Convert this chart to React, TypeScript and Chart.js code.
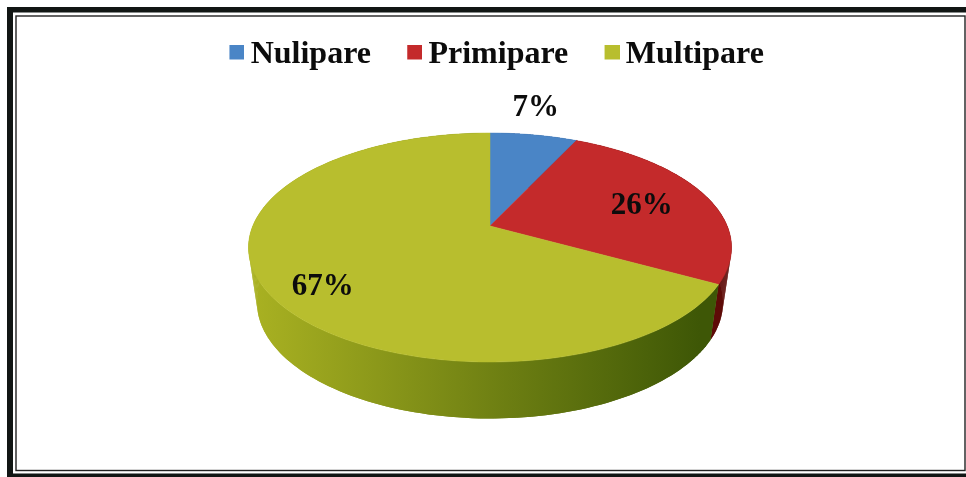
import React, { useEffect, useRef } from "react";
import { Chart, registerables } from "chart.js";

Chart.register(...registerables);

const categories = ["Nulipare", "Primipare", "Multipare"];
const shares = [7, 26, 67];
const faceColors = ["#4A85C6", "#C42A2B", "#B8BE2E"];
const sideStops = [
  ["#2C5A90", "#2C5A90"],
  ["#7C120E", "#5E0B07"],
  ["#AAB222", "#3E5706"],
];

// Tilted-disc projection
const CX = 490;
const CY = 226;
const A = 237.2;
const B = 110.46;
const K = 0.1878;
const ELL_Y = 247.5;
const RIM_SX = 233 / 241.5;
const RIM_SY = 116 / 114.5;
const RIM_Y = 302.5;

function face(angle: number, f = 1): [number, number] {
  const u = Math.cos(angle) * f;
  const v = -Math.sin(angle) * f;
  const w = 1 + K * v;
  return [CX + (A * u) / w, CY - (B * v) / w];
}
function rim(angle: number): [number, number] {
  const [x, y] = face(angle);
  return [CX + (x - CX) * RIM_SX, RIM_Y + (y - ELL_Y) * RIM_SY];
}

const labelRadial = [1, 0.7, 0.76];
const labelShift = [[2, -27], [0, 3], [0, 15]];

function legendSwatch(color: string) {
  const c = document.createElement("canvas");
  c.width = 20;
  c.height = 21;
  const x = c.getContext("2d") as CanvasRenderingContext2D;
  x.fillStyle = color;
  x.fillRect(5, 0, 15, 15);
  return c;
}

const pie3d = {
  id: "pie3d",
  beforeDraw(chart: any) {
    const { ctx } = chart;
    ctx.save();
    ctx.fillStyle = "#ffffff";
    ctx.fillRect(0, 0, 966, 477);
    ctx.fillStyle = "#111614";
    ctx.fillRect(7, 7, 959, 5.5);
    ctx.fillRect(7, 7, 6, 470);
    ctx.fillRect(7, 473.5, 959, 3.5);
    ctx.strokeStyle = "#222";
    ctx.lineWidth = 1.4;
    ctx.strokeRect(16, 16, 949, 454.5);
    ctx.restore();
  },
  beforeDatasetsDraw(chart: any) {
    const { ctx } = chart;
    const arcs = chart.getDatasetMeta(0).data;
    const path = (pts: [number, number][]) => {
      ctx.beginPath();
      pts.forEach(([x, y], i) => (i ? ctx.lineTo(x, y) : ctx.moveTo(x, y)));
      ctx.closePath();
    };
    const sweep = (el: any) => {
      const out: number[] = [];
      const n = 160;
      for (let i = 0; i <= n; i++) out.push(el.startAngle + ((el.endAngle - el.startAngle) * i) / n);
      return out;
    };
    ctx.save();
    arcs.forEach((el: any, i: number) => {
      const as = sweep(el);
      const g = ctx.createLinearGradient(249, 0, 700, 0);
      g.addColorStop(0, sideStops[i][0]);
      g.addColorStop(1, sideStops[i][1]);
      ctx.fillStyle = g;
      path([...as.map((a) => face(a)), ...as.slice().reverse().map((a) => rim(a))]);
      ctx.fill();
      for (let s = 0; s + 1 < as.length; s++) {
        path([face(as[s]), face(as[s + 1]), rim(as[s + 1]), rim(as[s])]);
        ctx.fill();
      }
    });
    arcs.forEach((el: any, i: number) => {
      ctx.fillStyle = faceColors[i];
      ctx.strokeStyle = faceColors[i];
      ctx.lineWidth = 0.5;
      path([[CX, CY], ...sweep(el).map((a) => face(a))]);
      ctx.fill();
      ctx.stroke();
    });
    ctx.font = "bold 31px 'Liberation Serif'";
    ctx.fillStyle = "#0c0c0c";
    ctx.textAlign = "center";
    ctx.textBaseline = "middle";
    arcs.forEach((el: any, i: number) => {
      const [x, y] = face((el.startAngle + el.endAngle) / 2, labelRadial[i]);
      ctx.fillText(`${shares[i]}%`, x + labelShift[i][0], y + labelShift[i][1]);
    });
    ctx.restore();
    return false;
  },
};

export default function App() {
  const ref = useRef<HTMLCanvasElement>(null);
  useEffect(() => {
    const swatches = faceColors.map(legendSwatch);
    const chart = new Chart(ref.current as HTMLCanvasElement, {
      type: "pie",
      data: {
        labels: categories,
        datasets: [{ data: shares, backgroundColor: faceColors, borderWidth: 0 }],
      },
      options: {
        responsive: false,
        animation: false,
        layout: { padding: { top: -2, left: 32, right: 0, bottom: 10 } },
        plugins: {
          tooltip: { enabled: false },
          legend: {
            position: "top",
            labels: {
              usePointStyle: true,
              boxWidth: 0.5,
              boxHeight: 15,
              padding: 41,
              color: "#0c0c0c",
              font: { family: "'Liberation Serif'", weight: "bold", size: 32 },
              generateLabels: (c: any) =>
                (Chart as any).overrides.doughnut.plugins.legend.labels
                  .generateLabels(c)
                  .map((it: any, i: number) => ({ ...it, pointStyle: swatches[i] })),
            },
          },
        },
      },
      plugins: [pie3d],
    } as any);
    return () => chart.destroy();
  }, []);
  return (
    <div style={{ position: "fixed", left: 0, top: 0, width: 966, height: 477 }}>
      <canvas ref={ref} width={966} height={477} style={{ display: "block" }} />
    </div>
  );
}
